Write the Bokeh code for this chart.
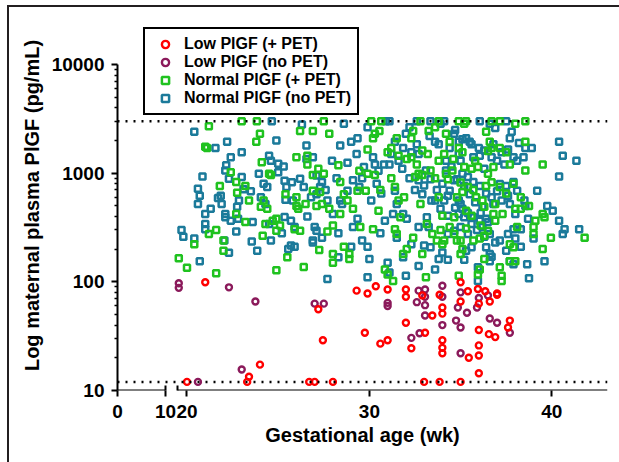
from bokeh.plotting import figure
from bokeh.models import (Range1d, LinearAxis, FixedTicker, NumeralTickFormatter,
                          Span, Legend, LegendItem)
from bokeh.embed import file_html
from bokeh.resources import INLINE

# ---------------- data (gestational age in wk, PlGF in pg/mL) ----------------
red_wk = [20.0, 21.0, 23.3, 23.4, 24.0, 26.7, 27.0, 27.2, 27.45, 28.0,
          29.3, 29.75, 29.9, 30.35, 30.6, 31.0, 31.0, 32.0, 32.0, 32.0,
          32.3, 32.9, 33.0, 33.05, 33.45, 33.85, 33.85, 34.0, 34.0, 34.0,
          34.0, 34.0, 35.0, 35.0, 35.0, 35.4, 35.45, 35.95, 36.0, 36.0,
          36.0, 36.0, 36.0, 36.35, 36.6, 36.55, 36.9, 37.0, 37.0, 37.6,
          37.7]
red_pg = [12, 99, 12, 13.4, 17.3, 12, 12, 56, 29, 12,
          83, 34, 78, 91, 27, 29, 85, 85, 73, 42,
          24.5, 75, 12, 34, 49, 76, 12, 58, 51, 29,
          24.7, 22, 99, 66, 12, 82, 20, 86, 63, 36,
          26, 21, 14.4, 82, 66, 33, 31, 78, 76, 38,
          44]

purple_wk = [19.55, 19.55, 20.6, 22.3, 23.0, 23.75, 27.0, 27.5, 31.0, 31.0,
             32.3, 32.6, 32.7, 32.75, 33.05, 33.05, 33.05, 33.05, 34.0, 34.0,
             34.0, 34.85, 35.0, 35.0, 35.0, 34.75, 35.35, 35.9, 36.0, 36.5,
             36.6, 37.0, 37.7]
purple_pg = [97, 88, 12, 89, 15.6, 66, 63, 63, 64, 60,
             30.5, 65, 83, 33.6, 85, 73, 61, 49, 92, 73,
             40, 58, 80, 38, 22, 44, 52, 58, 71, 75,
             46, 42, 34]

# (wk, pg/mL) pairs
teal_points = [
    (20.4, 2400), (21.56, 1700), (20.85, 930), (20.6, 720), (20.7, 620), (20.6, 520),
    (21.0, 420), (21.0, 340), (21.0, 305), (19.7, 300), (19.8, 260), (20.4, 250),
    (20.7, 155), (22.2, 1950), (22.15, 1180), (22.1, 1060), (22.3, 890),
    (21.85, 620), (21.9, 520), (22.1, 420), (22.1, 393), (22.4, 365), (22.05, 240),
    (22.3, 185), (22.7, 290), (23.0, 1560), (23.0, 920), (23.1, 710), (22.85, 560),
    (22.75, 490), (23.6, 355), (23.55, 235), (23.85, 193), (23.94, 990), (24.05, 600),
    (24.3, 520), (24.5, 1450), (24.6, 1300), (25.0, 1220), (25.0, 1020), (24.4, 745),
    (24.5, 340), (24.6, 240), (25.35, 395), (25.35, 850), (25.4, 570),
    (24.65, 3000), (26.3, 2800), (26.2, 890), (25.75, 825), (25.8, 560), (25.45, 745),
    (25.7, 365), (25.9, 320), (25.7, 216), (25.9, 210), (25.55, 200), (26.55, 1800),
    (26.55, 1350), (26.9, 1400), (26.4, 745), (27.1, 950), (27.3, 745), (27.1, 640),
    (27.4, 830), (27.0, 320), (27.1, 295), (26.9, 240), (27.4, 255), (27.7, 106),
    (27.7, 560), (27.95, 1300), (28.0, 420), (28.6, 2850), (28.4, 1800), (28.4, 560),
    (28.3, 168), (29.0, 1950), (29.35, 2100), (29.9, 2650), (29.7, 1140), (29.1, 860),
    (29.45, 745), (28.8, 690), (28.5, 520), (29.35, 380), (29.1, 320), (29.6, 240),
    (29.0, 210), (30.0, 162), (29.9, 110), (30.2, 1400), (30.3, 1200), (30.5, 1050),
    (30.1, 560), (30.65, 650), (30.85, 365), (31.0, 150), (31.1, 122), (30.9, 3000),
    (31.1, 3000), (31.4, 1950), (31.2, 1500), (31.1, 1200), (31.85, 1700), (32.3, 1560),
    (32.6, 1850), (32.7, 1500), (31.4, 690), (31.5, 520), (31.85, 420), (32.05, 380),
    (31.5, 255), (31.85, 168), (32.0, 114), (32.3, 222), (32.7, 320), (32.9, 640),
    (33.0, 770), (32.7, 860), (33.1, 1060), (33.35, 880), (33.6, 560), (33.15, 393),
    (33.25, 320), (33.0, 216), (33.35, 208), (33.8, 162), (34.0, 186), (33.6, 1950),
    (33.8, 1850), (32.2, 2650), (32.6, 3000), (33.35, 3000), (33.9, 2850),
    (34.1, 3000), (34.65, 2300), (34.9, 1950), (35.3, 2100), (34.9, 1500), (35.0, 1300),
    (34.2, 1060), (34.65, 860), (34.4, 690), (34.9, 560), (35.0, 520), (35.1, 470),
    (34.9, 420), (35.2, 393), (35.0, 320), (34.65, 295), (34.3, 276), (35.4, 276),
    (35.6, 340), (35.7, 393), (36.05, 365), (36.2, 320), (36.5, 355), (36.6, 276),
    (36.4, 208), (36.6, 180), (36.6, 155), (35.95, 136), (35.95, 102), (35.6, 208),
    (35.3, 193), (35.7, 1400), (36.05, 1450), (36.3, 1620), (36.7, 1400), (36.8, 1850),
    (36.6, 2850), (36.05, 3000), (35.5, 1950), (35.7, 830), (36.05, 760), (36.4, 650),
    (36.7, 600), (36.8, 520), (36.2, 490), (35.4, 920), (35.1, 990), (34.3, 405),
    (34.1, 560), (34.2, 1300), (34.4, 1700),
    (37.0, 1300), (37.25, 1560), (37.6, 1650), (37.7, 2100), (37.5, 3000), (37.9, 1400),
    (38.1, 1300), (38.45, 1400), (38.55, 1700), (38.9, 1700), (37.15, 795), (37.5, 760),
    (37.9, 830), (38.1, 690), (37.25, 560), (37.7, 520), (38.0, 420), (37.9, 305),
    (37.6, 276), (37.15, 240), (37.5, 193), (37.7, 155), (37.9, 145), (38.3, 210),
    (38.65, 145), (38.75, 108), (39.0, 250), (39.2, 690), (39.75, 500), (40.05, 450),
    (40.4, 1950), (40.4, 930), (40.6, 1450), (40.4, 365), (40.7, 305), (40.6, 276),
    (41.35, 1300), (41.5, 305), (39.6, 155), (38.55, 500), (38.3, 305),
    (34.5, 1150), (34.8, 880), (35.2, 760), (35.5, 640), (35.8, 540), (36.1, 430),
    (36.4, 380), (34.0, 800), (33.7, 700), (34.3, 620), (35.9, 300), (36.3, 260),
    (36.9, 230), (35.4, 430), (34.7, 480), (33.9, 470), (33.4, 560), (32.5, 700),
    (32.2, 900), (31.8, 1100), (31.6, 1300), (30.8, 1200), (30.4, 800), (29.6, 900),
    (36.0, 1700), (35.6, 1850), (34.7, 2500), (36.9, 2600), (37.8, 2400), (38.2, 1900),
    (37.4, 1200), (36.3, 1100), (35.1, 2050), (33.3, 2200), (32.0, 2300), (37.0, 680),
    (37.6, 620), (38.5, 560), (38.7, 380), (38.0, 250), (36.7, 170), (35.2, 160),
    (34.3, 160), (33.6, 130), (32.7, 140), (29.3, 1500), (28.8, 1250), (28.2, 900),
    (27.6, 700), (26.8, 600), (26.6, 400), (25.3, 1150), (24.2, 800), (23.5, 680),
    (22.8, 380), (21.3, 470), (21.7, 590), (22.4, 1400), (24.9, 2000), (30.6, 280),
    (31.3, 420), (29.9, 210), (28.3, 280), (26.9, 230), (25.2, 280),
]

green_points = [
    (21.2, 2700), (21.0, 1750), (21.1, 1700), (21.8, 760), (21.2, 275), (20.4, 222),
    (19.55, 165), (20.0, 135), (21.6, 120), (21.6, 300),
    (23.0, 3000), (23.83, 3000), (24.0, 2300), (23.8, 1950), (22.4, 1020), (22.7, 830),
    (22.7, 420), (22.0, 240), (22.0, 193), (23.4, 560), (23.2, 355), (24.1, 1260),
    (24.5, 990), (24.6, 960), (24.2, 560), (24.05, 490), (24.15, 265), (24.3, 340),
    (24.7, 365), (24.9, 380), (24.9, 128), (24.9, 295), (25.1, 330), (22.75, 660),
    (26.2, 2450), (26.9, 2450), (27.5, 3000), (27.8, 2300), (26.6, 1450), (26.6, 1200),
    (26.0, 1400), (27.2, 1100), (27.5, 990), (26.9, 960), (26.0, 600), (26.0, 500),
    (26.1, 470), (26.9, 690), (27.3, 670), (28.4, 830), (28.3, 1180), (27.1, 500),
    (27.4, 520), (27.8, 470), (28.0, 330), (25.5, 168), (26.4, 137), (27.25, 196),
    (28.0, 180), (28.0, 150), (26.2, 295), (25.9, 305),
    (28.6, 640), (28.8, 560), (29.1, 470), (29.35, 690), (29.8, 690), (29.45, 1050),
    (29.9, 990), (29.9, 1650), (30.2, 2100), (30.3, 2300), (30.1, 3000), (30.55, 2450),
    (30.65, 3000), (30.3, 960), (30.2, 305), (28.9, 180), (28.9, 162), (30.85, 130),
    (31.0, 117), (31.3, 102), (28.6, 210),
    (31.5, 2100), (31.2, 1700), (31.0, 1560), (31.6, 1450), (32.05, 1350), (32.3, 1400),
    (32.4, 2450), (32.3, 2100), (32.8, 3000), (33.25, 2450), (33.6, 2650), (33.8, 3000),
    (32.9, 1620), (32.7, 990), (32.5, 920), (32.9, 960), (33.35, 1060), (33.8, 1300),
    (31.4, 745), (31.6, 560), (31.7, 393), (31.4, 305), (31.5, 276), (31.85, 180),
    (32.05, 200), (32.4, 255), (32.8, 520), (33.15, 340), (33.45, 276), (33.7, 240),
    (33.8, 600), (34.0, 405), (34.0, 222), (33.1, 110), (32.9, 180),
    (34.9, 3000), (35.2, 2850), (35.3, 3000), (34.2, 2300), (34.4, 1950), (34.9, 1700),
    (35.1, 1560), (34.1, 1500), (34.2, 990), (34.55, 1060), (35.2, 1140), (35.4, 745),
    (35.1, 670), (35.85, 600), (36.2, 560), (36.5, 990), (36.7, 825), (36.8, 1140),
    (35.95, 1140), (35.6, 1100), (36.3, 490), (36.8, 420), (36.9, 365), (36.5, 295),
    (36.3, 265), (36.05, 250), (35.7, 240), (35.0, 240), (34.65, 276), (34.4, 320),
    (34.1, 240), (35.0, 180), (35.1, 200), (34.9, 114), (35.95, 117), (36.05, 130),
    (36.3, 162), (35.6, 405), (35.3, 450), (34.8, 600), (34.65, 393), (36.6, 1950),
    (36.7, 1700), (36.4, 2400), (36.7, 3000),
    (37.15, 3000), (38.0, 2850), (38.55, 3000), (37.15, 1700), (37.5, 1560), (37.7, 1200),
    (38.55, 1950), (38.55, 1060), (38.0, 470), (38.3, 470), (38.75, 500), (39.1, 365),
    (39.0, 320), (39.0, 276), (39.5, 420), (39.6, 393), (39.5, 1200), (39.95, 255),
    (39.5, 200), (37.7, 222), (37.9, 208), (38.0, 155), (37.7, 155), (37.25, 102),
    (37.25, 114), (37.15, 136), (37.15, 745), (37.5, 650), (38.1, 320), (41.8, 255),
    (34.3, 880), (35.0, 820), (35.7, 700), (36.4, 760), (33.6, 900), (32.6, 1200),
    (31.2, 900), (30.6, 700), (36.1, 330), (35.3, 310), (34.8, 240), (33.9, 300),
    (37.3, 420), (36.9, 520), (34.6, 1350), (33.2, 1500), (35.8, 1300), (36.5, 1600),
    (37.9, 800), (38.3, 600), (31.9, 600), (30.5, 450), (29.5, 320), (28.4, 420),
    (27.7, 290), (26.5, 520), (25.4, 640), (24.4, 470), (23.2, 760),
]

cutoff_high = 3000   # upper limit of detection
cutoff_low = 12      # lower limit of detection

series_labels = ["Low PlGF (+ PET)", "Low PlGF (no PET)",
                 "Normal PlGF (+ PET)", "Normal PlGF (no PET)"]
x_ticks_main = [20, 30, 40]
x_labels_left = ["0", "10"]
y_ticks = [10, 100, 1000, 10000]

# ---------------- layout constants ----------------
RED = "#FF0000"
PURPLE = "#8B1A5B"
GREEN = "#1FC21F"
TEAL = "#1B7A9A"
FONT = "Liberation Sans"

PX_PER_WK = 18.24            # main segment scale
FRAME_W = 490
X_START = 16.19
X_END = X_START + FRAME_W / PX_PER_WK
SEG_END = X_START + 48 / PX_PER_WK   # where the compressed 0-10 segment ends
BREAK_HI = 19.5                      # where the main segment starts
DECADE_PX = 326 / 3
Y_TOP = 10 ** (4 + 44 / DECADE_PX)   # room above 10000 for the legend

p = figure(width=619, height=462, output_backend="svg", toolbar_location=None,
           y_axis_type="log", x_range=Range1d(X_START, X_END), y_range=Range1d(10, Y_TOP),
           min_border_left=117, min_border_right=12, min_border_top=20,
           min_border_bottom=72, x_axis_location=None)
p.outline_line_color = None
p.xgrid.visible = False
p.ygrid.visible = False
p.background_fill_color = "white"
p.border_fill_color = None
p.styles = {"box-shadow": "inset 7px 5px 0 0 white, inset 9px 7px 0 0 #231f20",
            "background-color": "white"}

# y axis
ya = p.yaxis[0]
ya.bounds = (10, 10000)
ya.ticker = FixedTicker(ticks=y_ticks,
                        minor_ticks=[m * 10 ** k for k in (1, 2, 3) for m in range(2, 10)])
ya.formatter = NumeralTickFormatter(format="0")
ya.axis_label = "Log maternal plasma PlGF (pg/mL)"
ya.axis_label_text_font = FONT
ya.axis_label_text_font_style = "bold"
ya.axis_label_text_font_size = "20px"
ya.axis_label_text_color = "black"
ya.axis_label_standoff = 6
ya.major_label_text_font = FONT
ya.major_label_text_font_style = "bold"
ya.major_label_text_font_size = "19px"
ya.major_label_text_color = "black"
ya.major_label_standoff = 7
ya.axis_line_width = 2
ya.major_tick_line_width = 2
ya.major_tick_out = 6
ya.major_tick_in = 0
ya.minor_tick_line_width = 1.5
ya.minor_tick_out = 3
ya.minor_tick_in = 0

# labelled x axis (ticks + labels; its rule is drawn by the two segments below)
xa = LinearAxis(ticker=FixedTicker(ticks=[X_START, SEG_END] + x_ticks_main),
                bounds=(X_START, X_END),
                major_label_overrides={X_START: x_labels_left[0], SEG_END: x_labels_left[1]},
                axis_label="Gestational age (wk)")
xa.axis_line_color = None
xa.major_tick_line_width = 2
xa.major_tick_out = 6
xa.major_tick_in = 0
xa.minor_tick_out = 0
xa.minor_tick_in = 0
xa.major_label_text_font = FONT
xa.major_label_text_font_style = "bold"
xa.major_label_text_font_size = "19px"
xa.major_label_text_color = "black"
xa.major_label_standoff = 8
xa.axis_label_text_font = FONT
xa.axis_label_text_font_style = "bold"
xa.axis_label_text_font_size = "20px"
xa.axis_label_text_color = "black"
xa.axis_label_standoff = 3

# the two pieces of the broken axis rule
for lo, hi, brk in ((X_START, SEG_END, SEG_END), (BREAK_HI, X_END, BREAK_HI)):
    seg = LinearAxis(ticker=FixedTicker(ticks=[brk]), bounds=(lo, hi), fixed_location=10)
    seg.axis_line_width = 2
    seg.major_tick_line_width = 2
    seg.major_tick_out = 6
    seg.major_tick_in = 5
    seg.minor_tick_out = 0
    seg.minor_tick_in = 0
    seg.major_label_text_color = None
    p.add_layout(seg, "below")
p.add_layout(xa, "below")

# limit lines
for loc in (cutoff_high, cutoff_low):
    p.add_layout(Span(location=loc, dimension="width", line_color="black",
                      line_width=2.5, line_dash="2 6"))

teal_wk = [a for a, b in teal_points]
teal_pg = [b for a, b in teal_points]
green_wk = [a for a, b in green_points]
green_pg = [b for a, b in green_points]

r_teal = p.scatter(teal_wk, teal_pg, marker="square", size=6, line_width=2.5,
                   line_color=TEAL, fill_color=None)
r_green = p.scatter(green_wk, green_pg, marker="square", size=6, line_width=2.5,
                    line_color=GREEN, fill_color=None)
r_purple = p.scatter(purple_wk, purple_pg, marker="circle", size=6, line_width=2.4,
                     line_color=PURPLE, fill_color=None)
r_red = p.scatter(red_wk, red_pg, marker="circle", size=6, line_width=2.4,
                  line_color=RED, fill_color=None)

legend = Legend(items=[LegendItem(label=series_labels[0], renderers=[r_red]),
                       LegendItem(label=series_labels[1], renderers=[r_purple]),
                       LegendItem(label=series_labels[2], renderers=[r_green]),
                       LegendItem(label=series_labels[3], renderers=[r_teal])],
                location=(26, 275))
legend.border_line_color = "black"
legend.border_line_alpha = 1
legend.border_line_width = 2
legend.background_fill_color = "white"
legend.background_fill_alpha = 1
legend.padding = 6
legend.spacing = 0
legend.margin = 0
legend.label_height = 18
legend.glyph_height = 18
legend.glyph_width = 28
legend.label_standoff = 5
legend.label_text_font = FONT
legend.label_text_font_style = "bold"
legend.label_text_font_size = "16px"
legend.label_text_color = "black"
p.add_layout(legend)

open("out.html", "w").write(file_html(p, INLINE))
